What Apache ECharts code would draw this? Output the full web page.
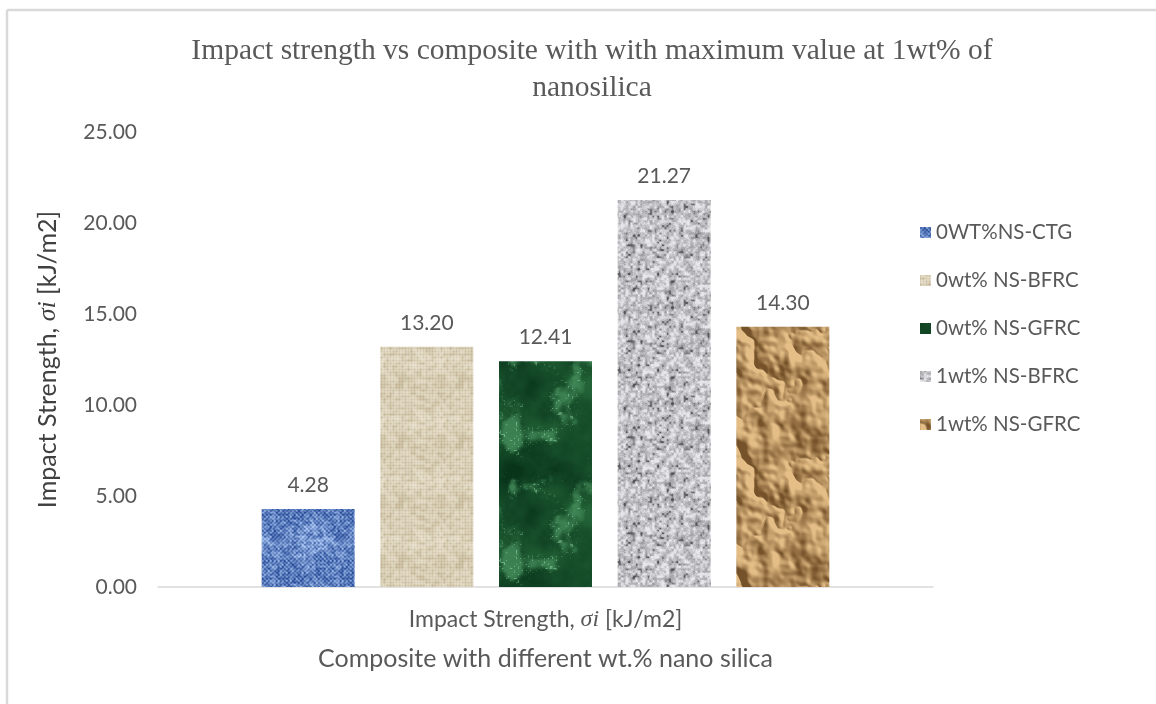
<!DOCTYPE html>
<html>
<head>
<meta charset="utf-8">
<script src="https://cdn.jsdelivr.net/npm/echarts@6/dist/echarts.min.js"></script>
<style>
  html, body { margin: 0; padding: 0; background: #ffffff; }
  #chart { width: 1156px; height: 704px; }
</style>
</head>
<body>
<div id="chart"></div>
<script>
// ---- chart data ----
const categories = ['Impact Strength, σi [kJ/m2]'];
const seriesNames = ['0WT%NS-CTG', '0wt% NS-BFRC', '0wt% NS-GFRC', '1wt% NS-BFRC', '1wt% NS-GFRC'];
const seriesValues = [4.28, 13.20, 12.41, 21.27, 14.30];
const yTickValues = [0, 5, 10, 15, 20, 25];

// ---- texture helpers (deterministic hash noise, tileable) ----
function hash(i, j, seed) {
  const s = Math.sin(i * 127.1 + j * 311.7 + seed * 74.7) * 43758.5453;
  return s - Math.floor(s);
}
function valueNoise(x, y, cells, size, seed) {
  const fx = x / size * cells, fy = y / size * cells;
  const x0 = Math.floor(fx), y0 = Math.floor(fy);
  const tx = fx - x0, ty = fy - y0;
  const sx = tx * tx * (3 - 2 * tx), sy = ty * ty * (3 - 2 * ty);
  const w = a => ((a % cells) + cells) % cells;
  const a = hash(w(x0), w(y0), seed), b = hash(w(x0 + 1), w(y0), seed);
  const c = hash(w(x0), w(y0 + 1), seed), d = hash(w(x0 + 1), w(y0 + 1), seed);
  return a + (b - a) * sx + (c - a) * sy + (a - b - c + d) * sx * sy;
}
function fbm(x, y, size, baseCells, octaves, seed) {
  let v = 0, amp = 0.5, tot = 0, c = baseCells;
  for (let i = 0; i < octaves; i++) {
    v += amp * valueNoise(x, y, c, size, seed + i);
    tot += amp; amp *= 0.5; c *= 2;
  }
  return v / tot;
}
function smooth(e0, e1, v) {
  const t = Math.max(0, Math.min(1, (v - e0) / (e1 - e0)));
  return t * t * (3 - 2 * t);
}
function mix(c1, c2, t) {
  t = Math.max(0, Math.min(1, t));
  return [c1[0] + (c2[0] - c1[0]) * t, c1[1] + (c2[1] - c1[1]) * t, c1[2] + (c2[2] - c1[2]) * t];
}
function makeTexture(size, shade) {
  const cv = document.createElement('canvas');
  cv.width = size; cv.height = size;
  const ctx = cv.getContext('2d');
  const img = ctx.createImageData(size, size);
  for (let y = 0; y < size; y++) {
    for (let x = 0; x < size; x++) {
      const c = shade(x, y);
      const k = (y * size + x) * 4;
      img.data[k] = c[0]; img.data[k + 1] = c[1]; img.data[k + 2] = c[2]; img.data[k + 3] = 255;
    }
  }
  ctx.putImageData(img, 0, 0);
  return { image: cv, repeat: 'repeat' };
}

// blue woven cloth
const denim = makeTexture(64, (x, y) => {
  const weave = (((x >> 1) + (y >> 1)) % 2) ? 0.12 : -0.12;
  const n = valueNoise(x, y, 32, 64, 1) - 0.5;
  const m = fbm(x, y, 64, 4, 3, 5) - 0.5;
  return mix([40, 76, 152], [172, 200, 244], 0.52 + weave + n * 0.7 + m * 0.5);
});
// beige burlap
const burlap = makeTexture(60, (x, y) => {
  let v = 0.64;
  if (x % 3 === 0) v -= 0.18;
  if (y % 3 === 0) v -= 0.15;
  v += (valueNoise(x, y, 20, 60, 11) - 0.5) * 0.5 + (fbm(x, y, 60, 3, 2, 13) - 0.5) * 0.3;
  return mix([190, 176, 142], [240, 234, 218], v);
});
// green marble
const marble = makeTexture(128, (x, y) => {
  const cloud = fbm(x, y, 128, 3, 5, 21);
  const patch = fbm(x, y, 128, 5, 4, 33);
  const fleck = valueNoise(x, y, 64, 128, 51);
  let c = mix([8, 52, 26], [34, 98, 54], (cloud - 0.3) * 2);
  c = mix(c, [70, 142, 92], smooth(0.55, 0.75, patch) * 0.8);
  c = mix(c, [120, 190, 140], smooth(0.78, 0.95, fleck) * smooth(0.45, 0.7, patch) * 0.8);
  return c;
});
// grey granite
const granite = makeTexture(96, (x, y) => {
  const n = valueNoise(x, y, 40, 96, 41) * 0.6 + valueNoise(x, y, 20, 96, 43) * 0.4;
  const fine = valueNoise(x, y, 96, 96, 47);
  let c = mix([150, 150, 155], [232, 232, 235], (n - 0.2) * 1.7 + (fine - 0.5) * 0.3);
  if (n < 0.3) c = mix([85, 85, 92], c, (n - 0.15) / 0.15);
  return c;
});
// tan crumpled paper
function paperHeight(x, y) {
  return 1 - Math.abs(2 * fbm(x, y, 128, 3, 4, 61) - 1);
}
const paper = makeTexture(128, (x, y) => {
  const h = paperHeight(x, y);
  const dx = paperHeight(x + 1, y) - paperHeight(x - 1, y);
  const dy = paperHeight(x, y + 1) - paperHeight(x, y - 1);
  const light = 0.5 + (dx * 0.9 - dy * 0.7) * 8 + (h - 0.5) * 0.3;
  return mix([118, 82, 42], [228, 190, 134], light);
});
const textures = [denim, burlap, marble, granite, paper];

// ---- text styles ----
const sansFont = 'Lato, "Open Sans", sans-serif';
const serifFont = '"Liberation Serif", "DejaVu Serif", serif';
const grey = '#595959';
function labelWithSigma(text) {
  const parts = text.split('σi');
  return '{a|' + parts[0] + '}{s|σi}{a|' + parts[1] + '}';
}

const chart = echarts.init(document.getElementById('chart'), null, { renderer: 'canvas' });

const series = seriesNames.map((name, i) => ({
  name: name,
  type: 'bar',
  data: [seriesValues[i]],
  barWidth: 93,
  barGap: '27.6%',
  itemStyle: { color: textures[i] },
  label: {
    show: true,
    position: 'top',
    distance: 13,
    fontFamily: sansFont,
    fontSize: 21,
    color: grey,
    formatter: p => p.value.toFixed(2)
  },
  emphasis: { disabled: true }
}));

chart.setOption({
  animation: false,
  backgroundColor: '#ffffff',
  title: {
    text: 'Impact strength vs composite with with maximum value at 1wt% of\nnanosilica',
    left: 587,
    textAlign: 'center',
    top: 28,
    textStyle: {
      fontFamily: serifFont,
      fontWeight: 'normal',
      fontSize: 29.5,
      lineHeight: 37,
      color: grey
    }
  },
  legend: {
    orient: 'vertical',
    left: 915,
    top: 217,
    itemWidth: 11,
    itemHeight: 11,
    itemGap: 27,
    icon: 'rect',
    textStyle: { fontFamily: sansFont, fontSize: 20.5, color: grey, lineHeight: 20 },
    data: seriesNames
  },
  grid: { left: 158, right: 223, top: 132, bottom: 117 },
  xAxis: {
    type: 'category',
    data: categories,
    axisLine: { show: true, lineStyle: { color: '#d9d9d9', width: 1.5 } },
    axisTick: { show: false },
    axisLabel: {
      margin: 21,
      formatter: v => labelWithSigma(v),
      rich: {
        a: { fontFamily: sansFont, fontSize: 23, color: grey },
        s: { fontFamily: serifFont, fontStyle: 'italic', fontSize: 24, color: grey }
      }
    },
    name: 'Composite with different wt.% nano silica',
    nameLocation: 'middle',
    nameGap: 59,
    nameTextStyle: { fontFamily: sansFont, fontSize: 25, color: grey }
  },
  yAxis: {
    type: 'value',
    min: yTickValues[0],
    max: yTickValues[yTickValues.length - 1],
    interval: yTickValues[1] - yTickValues[0],
    splitLine: { show: false },
    axisLine: { show: false },
    axisTick: { show: false },
    axisLabel: {
      margin: 21,
      fontFamily: sansFont,
      fontSize: 21,
      color: grey,
      formatter: v => v.toFixed(2)
    },
    name: labelWithSigma('Impact Strength, σi [kJ/m2]'),
    nameLocation: 'middle',
    nameRotate: 90,
    nameGap: 97,
    nameTextStyle: {
      rich: {
        a: { fontFamily: sansFont, fontSize: 25, color: '#404040' },
        s: { fontFamily: serifFont, fontStyle: 'italic', fontSize: 26, color: '#404040' }
      }
    }
  },
  graphic: [
    { type: 'line', silent: true, shape: { x1: 7, y1: 10, x2: 1156, y2: 10 }, style: { stroke: '#d9d9d9', lineWidth: 2.5 } },
    { type: 'line', silent: true, shape: { x1: 7, y1: 10, x2: 7, y2: 704 }, style: { stroke: '#d9d9d9', lineWidth: 2.5 } }
  ],
  series: series
});
</script>
</body>
</html>
